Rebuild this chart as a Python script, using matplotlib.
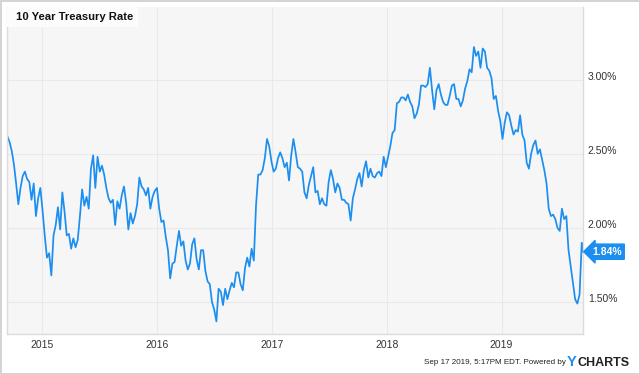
import matplotlib.pyplot as plt
import matplotlib.dates as mdates
from matplotlib.patches import Rectangle
import pandas as pd

# weekly (Friday) 10 year treasury yield, %
rate_2014 = [2.62, 2.58, 2.52, 2.43, 2.30, 2.16, 2.27, 2.35, 2.38, 2.33, 2.31, 2.19,
             2.30, 2.08, 2.20, 2.27]
rate_2015 = [2.12, 1.95, 1.80, 1.83, 1.68,
             1.95, 2.02, 2.14, 1.99,
             2.24, 2.11, 1.95, 1.96,
             1.86, 1.93, 1.87, 1.92,
             2.08, 2.26, 2.15, 2.21, 2.13,
             2.40, 2.49, 2.27, 2.48,
             2.38, 2.42, 2.36, 2.27, 2.20,
             2.17, 2.19, 2.02, 2.18,
             2.13, 2.22, 2.28, 2.17,
             1.99, 2.10, 2.03, 2.08, 2.16,
             2.34, 2.28, 2.26, 2.22,
             2.27, 2.13, 2.21, 2.25]
rate_2016 = [2.27, 2.13, 2.04, 2.05, 1.94,
             1.85, 1.66, 1.76, 1.77,
             1.88, 1.98, 1.88, 1.91,
             1.78, 1.72, 1.76, 1.89, 1.93,
             1.79, 1.72, 1.85, 1.85,
             1.71, 1.64, 1.62, 1.50,
             1.45, 1.37, 1.59, 1.57, 1.48,
             1.59, 1.52, 1.58, 1.63,
             1.60, 1.70, 1.70, 1.62, 1.58,
             1.73, 1.80, 1.74, 1.86,
             1.78, 2.15, 2.36, 2.36,
             2.39, 2.47, 2.60, 2.55, 2.45]
rate_2017 = [2.38, 2.40, 2.47, 2.51,
             2.47, 2.41, 2.44, 2.32,
             2.49, 2.60, 2.51, 2.41, 2.40,
             2.38, 2.24, 2.20, 2.29,
             2.35, 2.41, 2.24, 2.25,
             2.16, 2.20, 2.16, 2.15, 2.31,
             2.39, 2.33, 2.24, 2.30,
             2.27, 2.19, 2.19, 2.17,
             2.16, 2.05, 2.20, 2.26, 2.33,
             2.37, 2.28, 2.39, 2.45,
             2.34, 2.40, 2.35, 2.34,
             2.37, 2.38, 2.35, 2.48, 2.41]
rate_2018 = [2.48, 2.55, 2.64, 2.66,
             2.84, 2.85, 2.88, 2.88,
             2.86, 2.90, 2.85, 2.82, 2.74,
             2.77, 2.83, 2.96, 2.96,
             2.95, 2.97, 3.08, 2.93,
             2.80, 2.93, 2.97, 2.90, 2.85,
             2.83, 2.83, 2.89, 2.96,
             2.97, 2.87, 2.87, 2.82, 2.86,
             2.94, 2.99, 3.07, 3.05,
             3.22, 3.16, 3.19, 3.08,
             3.21, 3.19, 3.08, 3.06, 3.01,
             2.87, 2.89, 2.79, 2.72]
rate_2019 = [2.60, 2.71, 2.78, 2.76,
             2.69, 2.63, 2.66, 2.65,
             2.76, 2.63, 2.59, 2.44, 2.40,
             2.50, 2.56, 2.59, 2.50,
             2.53, 2.46, 2.39, 2.30, 2.13,
             2.08, 2.09, 2.06, 2.00,
             1.98, 2.13, 2.06, 2.08,
             1.85, 1.74, 1.63, 1.52, 1.49,
             1.55, 1.90]
last_date = '2019-09-16'
last_rate = 1.84

rates = rate_2014 + rate_2015 + rate_2016 + rate_2017 + rate_2018 + rate_2019
dates = list(pd.date_range('2014-09-12', periods=len(rates), freq='W-FRI'))
dates.append(pd.Timestamp(last_date))
rates.append(last_rate)

blue = '#1b8ef0'

fig = plt.figure(figsize=(6.4, 3.74), dpi=100)
fig.patch.set_edgecolor('#d4d4d4')
fig.patch.set_linewidth(2)
ax = fig.add_axes([7/640, 40/374, 576/640, 327/374])
ax.set_facecolor('#f6f6f6')

ax.plot(dates, rates, color=blue, linewidth=1.25)

ax.set_xlim(pd.Timestamp('2014-09-11'), pd.Timestamp('2019-09-17'))
ax.set_ylim(1.285, 3.49)
ax.xaxis.set_major_locator(mdates.YearLocator())
ax.xaxis.set_major_formatter(mdates.DateFormatter('%Y'))
ax.set_yticks([1.5, 2.0, 2.5, 3.0])
ax.set_yticklabels(['%.2f%%' % v for v in [1.5, 2.0, 2.5, 3.0]])
ax.yaxis.tick_right()
ax.tick_params(axis='both', length=0, labelsize=7.5, labelcolor='#333333',
               labelfontfamily='Liberation Sans')
ax.tick_params(axis='y', pad=3.5)
ax.tick_params(axis='x', pad=4)
for lab in ax.get_yticklabels():
    lab.set_va('baseline')
ax.grid(color='#e9e9e9', linewidth=0.8)
ax.set_axisbelow(True)
for s in ['left', 'bottom', 'right']:
    ax.spines[s].set_color('#dcdcdc')
    ax.spines[s].set_linewidth(1)
ax.spines['top'].set_visible(False)

# title box
ax.add_patch(Rectangle((0, 1 - 20/327), 131/576, 20/327, transform=ax.transAxes,
                       facecolor='#fcfcfc', edgecolor='none', zorder=3))
ax.text(9/576, 1 - 10/327, '10 Year Treasury Rate', transform=ax.transAxes,
        ha='left', va='center', fontsize=8.1, fontweight='bold', family='Liberation Sans',
        color='#111111', zorder=4)

# last value tag
ax.annotate('%.2f%%' % last_rate, xy=(1.0, last_rate), xycoords=('axes fraction', 'data'),
            xytext=(6.5, 0), textcoords='offset points', ha='left', va='center',
            fontsize=7.5, fontweight='bold', color='white', family='Liberation Sans',
            bbox=dict(boxstyle='larrow,pad=0.25', facecolor=blue, edgecolor=blue))

# footer
fig.text(566/640, 11/374, 'Sep 17 2019, 5:17PM EDT. Powered by', ha='right', va='center',
         fontsize=5.8, color='#222222', family='Liberation Sans')
fig.text(567/640, 11.5/374, 'Y', ha='left', va='center', fontsize=10.5, fontweight='bold',
         color=blue, family='Liberation Sans')
fig.text(578/640, 11.5/374, 'CHARTS', ha='left', va='center', fontsize=9, fontweight='bold',
         color='#222222', family='Liberation Sans')

plt.savefig('out.png', dpi=100, facecolor=fig.get_facecolor(), edgecolor=fig.patch.get_edgecolor())
